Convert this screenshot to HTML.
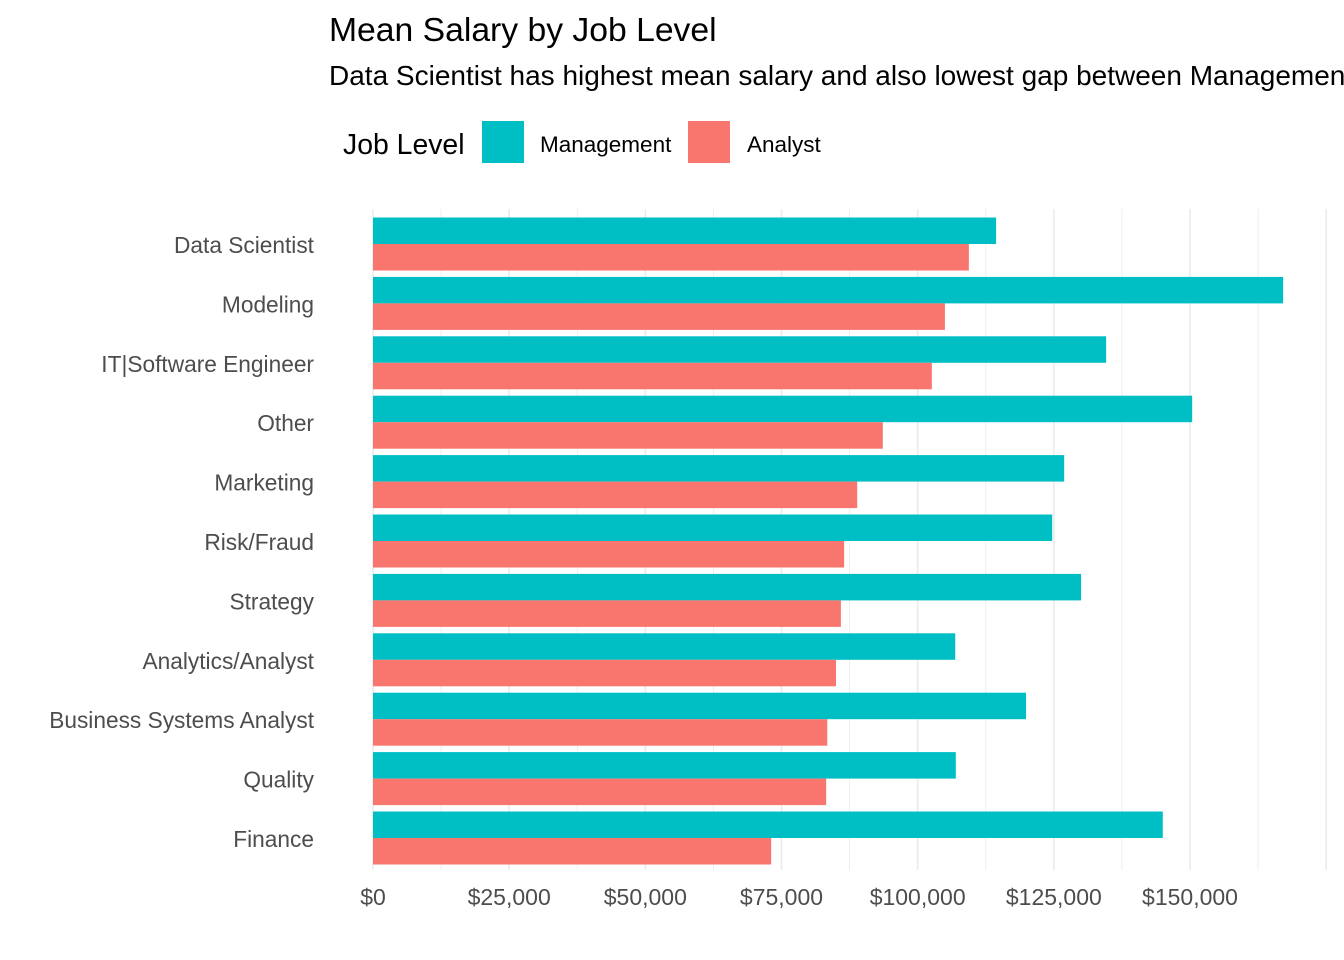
<!DOCTYPE html>
<html><head><meta charset="utf-8"><style>
body{margin:0;background:#fff;font-family:"Liberation Sans",sans-serif;}
svg{display:block}
</style></head><body>
<svg id="chart" width="1344" height="960">
<text x="329" y="41" font-size="33.7" fill="#000">Mean Salary by Job Level</text>
<text x="329" y="85" font-size="28" fill="#000">Data Scientist has highest mean salary and also lowest gap between Management and Analyst</text>
<g>
<text x="343" y="154" font-size="28.4" fill="#000">Job Level</text>
<rect x="482" y="121" width="42" height="42" fill="#00BFC4"/>
<text x="540" y="152" font-size="22.5" fill="#000">Management</text>
<rect x="688" y="121" width="42" height="42" fill="#F8766D"/>
<text x="747" y="152" font-size="22.5" fill="#000">Analyst</text>
</g>
<g id="grid"></g><g id="bars"></g><g id="axes"></g>
</svg>
<script>
const categories=["Data Scientist","Modeling","IT|Software Engineer","Other","Marketing","Risk/Fraud","Strategy","Analytics/Analyst","Business Systems Analyst","Quality","Finance"];
const management=[114400,167100,134600,150400,126900,124700,130000,106900,119900,107000,145000];
const analyst=[109400,105000,102600,93600,88900,86500,85900,85000,83400,83200,73100];
const tickValues=[0,25000,50000,75000,100000,125000,150000];
const tickLabels=["$0","$25,000","$50,000","$75,000","$100,000","$125,000","$150,000"];
const NS="http://www.w3.org/2000/svg";
const x0=373,pxPer=817/150000,top0=244,step=59.4,barH=26.5;
const xs=v=>x0+v*pxPer;
const yc=i=>top0+i*step;
function mk(t,a,p){const e=document.createElementNS(NS,t);for(const k in a)e.setAttribute(k,a[k]);p.appendChild(e);return e;}
const grid=document.getElementById('grid'),bars=document.getElementById('bars'),axes=document.getElementById('axes');
for(let v=0;v<=175000;v+=12500){
 const l=mk('line',{x1:xs(v),x2:xs(v),y1:209,y2:870,stroke:'#ebebeb','stroke-width':v%25000===0?1.6:0.8},grid);
 
 
}
categories.forEach((c,i)=>{
 const m=mk('rect',{x:xs(0),y:yc(i)-barH,width:xs(management[i])-xs(0),height:barH,fill:'#00BFC4'},bars);
 
 
 const a=mk('rect',{x:xs(0),y:yc(i),width:xs(analyst[i])-xs(0),height:barH,fill:'#F8766D'},bars);
 
 
 const t=mk('text',{x:314,y:yc(i)+9,'text-anchor':'end','font-size':22.7,fill:'#4d4d4d'},axes);
 t.textContent=c;
 
 
});
tickValues.forEach((v,i)=>{
 const t=mk('text',{x:xs(v),y:905,'text-anchor':'middle','font-size':23,fill:'#4d4d4d'},axes);
 t.textContent=tickLabels[i];
 
 
});
</script>
</body></html>
